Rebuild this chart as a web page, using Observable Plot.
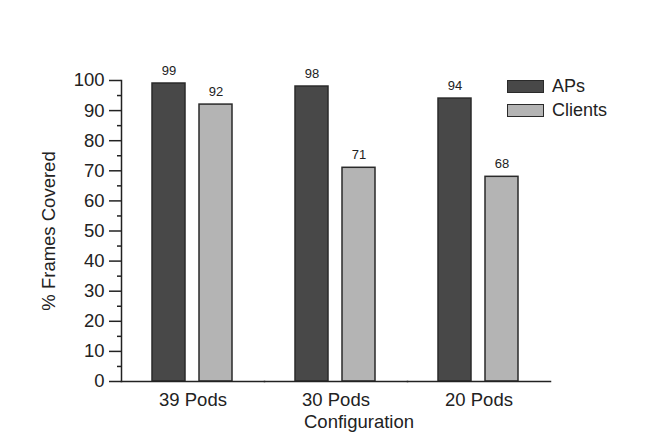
<!DOCTYPE html>
<html>
<head>
<meta charset="utf-8">
<script src="https://cdn.jsdelivr.net/npm/d3@7"></script>
<script src="https://cdn.jsdelivr.net/npm/@observablehq/plot@0.6"></script>
<style>
  html, body { margin: 0; padding: 0; background: #fff; }
  #wrap { position: relative; width: 647px; height: 447px; font-family: "Liberation Sans", Arial, sans-serif; }
  #legend { position: absolute; left: 507px; top: 74px; font-size: 18px; color: #222; }
  .item { display: flex; align-items: center; height: 24px; }
  .sw { width: 35px; height: 11px; border: 1.5px solid #2a2a2a; margin-right: 8px; }
</style>
</head>
<body>
<div id="wrap"><div id="legend"></div></div>
<script>
const configs = ["39 Pods", "30 Pods", "20 Pods"];
const seriesNames = ["APs", "Clients"];
const apsValues = [99, 98, 94];
const clientsValues = [92, 71, 68];
const yMajorTicks = [0, 10, 20, 30, 40, 50, 60, 70, 80, 90, 100];
const yMinorTicks = [5, 15, 25, 35, 45, 55, 65, 75, 85, 95];
const seriesColors = ["#484848", "#b4b4b4"];
const xTitle = "Configuration";

const data = configs.flatMap((c, i) => [
  {config: c, series: "APs", value: apsValues[i]},
  {config: c, series: "Clients", value: clientsValues[i]}
]);

const chart = Plot.plot({
  width: 647,
  height: 447,
  marginLeft: 121,
  marginRight: 97,
  marginTop: 80,
  marginBottom: 66,
  style: {fontFamily: "Liberation Sans, Arial, sans-serif", color: "#222", background: "#fff"},
  fx: {domain: configs, padding: 0},
  x: {domain: seriesNames, paddingInner: 0.292, paddingOuter: 0.636},
  y: {domain: [0, 100]},
  color: {domain: seriesNames, range: seriesColors},
  marks: [
    Plot.barY(data, {fx: "config", x: "series", y: "value", fill: "series", stroke: "#2a2a2a", strokeWidth: 1.5}),
    Plot.text(data, {fx: "config", x: "series", y: "value", text: d => String(d.value), dy: -13, fontSize: 13, fill: "#222"}),
    Plot.frame({anchor: "left", facetAnchor: "left", stroke: "#222", strokeWidth: 1.5}),
    Plot.frame({anchor: "bottom", stroke: "#222", strokeWidth: 1.5}),
    Plot.axisY({ticks: yMajorTicks, tickSize: 12, tickPadding: 5, fontSize: 18.5, strokeWidth: 1.5, label: "% Frames Covered", labelAnchor: "center", labelArrow: "none", labelOffset: 80}),
    Plot.axisY({ticks: yMinorTicks, tickSize: 4, tickFormat: () => "", strokeWidth: 1.5, label: null}),
    Plot.axisFx({anchor: "bottom", tickSize: 0, tickPadding: 11, fontSize: 18.5, label: null}),
    Plot.text([xTitle], {facet: "super", frameAnchor: "bottom", lineAnchor: "middle", dx: 23, dy: 41, fontSize: 18.5, fill: "#222"}),
    Plot.axisX({ticks: [], label: null})
  ]
});

document.getElementById("wrap").prepend(chart);

const legend = document.getElementById("legend");
seriesNames.forEach((s, i) => {
  const item = document.createElement("div");
  item.className = "item";
  const sw = document.createElement("span");
  sw.className = "sw";
  sw.style.background = seriesColors[i];
  const t = document.createElement("span");
  t.textContent = s;
  item.appendChild(sw);
  item.appendChild(t);
  legend.appendChild(item);
});
</script>
</body>
</html>
